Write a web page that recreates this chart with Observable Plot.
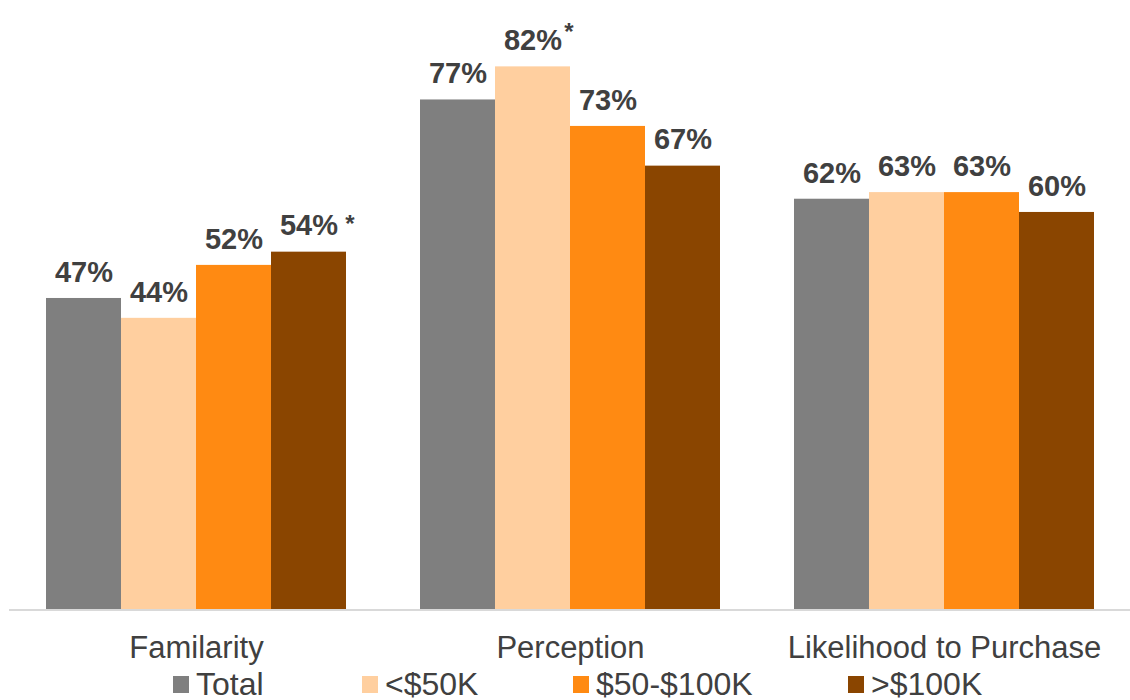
<!DOCTYPE html>
<html><head><meta charset="utf-8">
<script src="https://cdn.jsdelivr.net/npm/d3@7"></script>
<script src="https://cdn.jsdelivr.net/npm/@observablehq/plot@0.6"></script>
<style>
body{margin:0;background:#fff;font-family:"Liberation Sans",Arial,sans-serif;overflow:hidden;}
#wrap{position:relative;width:1130px;height:700px;}
#legend{position:absolute;left:0;top:668px;width:1130px;height:32px;color:#404040;font-size:32px;}
.item{position:absolute;top:0;height:32px;display:flex;align-items:center;}
.sw{width:16px;height:17px;margin-right:7px;}
</style></head>
<body><div id="wrap"><div id="chart"></div><div id="legend"></div></div>
<script>
const categories = ["Familarity", "Perception", "Likelihood to Purchase"];
const groups = ["Total", "<$50K", "$50-$100K", ">$100K"];
const colors = ["#7f7f7f", "#ffcf9f", "#ff8a12", "#8a4500"];
const familiarity = [47, 44, 52, 54];
const perception = [77, 82, 73, 67];
const likelihood = [62, 63, 63, 60];
const starred = [[0, 3], [1, 1]]; // [category index, group index]

const series = [familiarity, perception, likelihood];
const data = [];
categories.forEach((c, ci) => groups.forEach((g, gi) => data.push({
  category: c, group: g, value: series[ci][gi],
  star: starred.some(([a, b]) => a === ci && b === gi)
})));

const plot = Plot.plot({
  width: 1130, height: 668,
  marginLeft: 9, marginRight: 0, marginTop: 0, marginBottom: 59,
  style: {fontFamily: "'Liberation Sans', Arial, sans-serif", background: "#fff"},
  fx: {domain: categories, paddingInner: 0.198, paddingOuter: 0.0976, label: null},
  x: {domain: groups, padding: 0, axis: null},
  y: {domain: [0, 92.03], axis: null},
  color: {domain: groups, range: colors},
  marks: [
    Plot.barY(data, {fx: "category", x: "group", y: "value", fill: "group"}),
    Plot.text(data, {fx: "category", x: "group", y: "value", text: d => d.value + "%",
      dy: -26, fontSize: 29, fontWeight: "bold", fill: "#404040"}),
    Plot.text(data.filter(d => d.star && d.value > 70), {fx: "category", x: "group", y: "value", text: () => "*",
      dx: 36, dy: -35, fontSize: 24, fontWeight: "bold", fill: "#404040"}),
    Plot.text(data.filter(d => d.star && d.value <= 70), {fx: "category", x: "group", y: "value", text: () => "*",
      dx: 41, dy: -28, fontSize: 24, fontWeight: "bold", fill: "#404040"}),
    Plot.axisFx({anchor: "bottom", tickSize: 0, tickPadding: 26, fontSize: 31, fill: "#404040", label: null})
  ]
});
document.getElementById("chart").appendChild(plot);

// full-width baseline
const y0 = plot.scale("y").apply(0);
d3.select(plot).append("line")
  .attr("x1", 9).attr("x2", 1130).attr("y1", y0 + 1).attr("y2", y0 + 1)
  .attr("stroke", "#d9d9d9").attr("stroke-width", 2);

const legendX = [173, 362, 573, 848];
const leg = d3.select("#legend");
groups.forEach((g, i) => {
  const it = leg.append("div").attr("class", "item").style("left", legendX[i] + "px");
  it.append("div").attr("class", "sw").style("background", colors[i]);
  it.append("span").text(g);
});
</script></body></html>
